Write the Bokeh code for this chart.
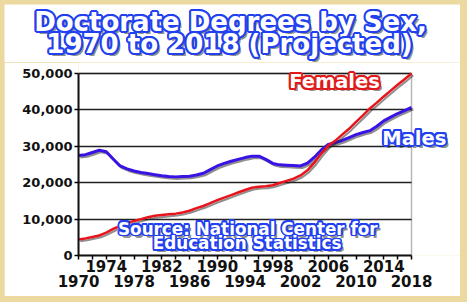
import math
from bokeh.plotting import figure
from bokeh.models import (Range1d, FixedTicker, LinearAxis, Label, NumeralTickFormatter,
                          ColumnDataSource, BoxAnnotation)
from bokeh.layouts import column, row
from bokeh.transform import dodge
from bokeh.embed import file_html
from bokeh.resources import INLINE

# ---------------- data ----------------
years = list(range(1970, 2019))
males = [27500, 27700, 28300, 28900, 28500, 26500, 24600, 23800, 23200, 22800,
         22500, 22200, 21900, 21700, 21600, 21700, 21800, 22100, 22600, 23600,
         24600, 25300, 25900, 26400, 26900, 27300, 27300, 26400, 25300, 24900,
         24800, 24700, 24600, 25400, 27000, 29000, 30500, 31000, 31600, 32400,
         33200, 33800, 34300, 35500, 37000, 38000, 39000, 39800, 40700]
females = [4400, 4700, 5100, 5500, 6300, 7300, 8100, 8900, 9500, 10000,
           10500, 10900, 11100, 11300, 11500, 11800, 12300, 13000, 13600, 14400,
           15200, 15900, 16600, 17300, 18000, 18600, 18900, 19000, 19300, 19900,
           20500, 21100, 22000, 23400, 25500, 28000, 30200, 31500, 33200, 34800,
           36700, 38500, 40400, 42000, 43700, 45300, 46900, 48400, 50000]
series_names = ["Females", "Males"]
title_lines = ["Doctorate Degrees by Sex,", "1970 to 2018 (Projected)"]
source_lines = ["Source: National Center for", "Education Statistics"]
y_ticks = [0, 10000, 20000, 30000, 40000, 50000]
x_minor_ticks = list(range(1970, 2019, 2))
x_labels_row1 = [1974, 1982, 1990, 1998, 2006, 2014]
x_labels_row2 = [1970, 1978, 1986, 1994, 2002, 2010, 2018]

X0, X1 = years[0], years[-1]
Y0, Y1 = y_ticks[0], y_ticks[-1]

FONT = "DejaVu Sans"
BLUE = "#2140f0"
RED = "#e01a1a"


def outlined(fig, x, y, text, size, outline, r=2.0):
    common = dict(x=x, y=y, text=text, text_font=FONT, text_font_style="bold",
                  text_font_size=size, text_align="center", text_baseline="alphabetic",
                  level="overlay")
    fig.add_layout(Label(x_offset=3, y_offset=-3, text_color="#303030", text_alpha=0.55, **common))
    for k in range(16):
        a = 2 * math.pi * k / 16
        fig.add_layout(Label(x_offset=r * math.cos(a), y_offset=r * math.sin(a),
                             text_color=outline, **common))
    fig.add_layout(Label(text_color="white", **common))


# ---------------- title panel ----------------
t = figure(width=456, height=58, x_range=Range1d(0, 456), y_range=Range1d(0, 58),
           output_backend="svg", toolbar_location=None,
           x_axis_location=None, y_axis_location=None,
           min_border=0, min_border_left=0, min_border_right=0,
           min_border_top=0, min_border_bottom=0)
t.background_fill_color = "white"
t.border_fill_color = "white"
t.outline_line_color = None
t.grid.visible = False
outlined(t, 226, 40.5, title_lines[0], "26px", BLUE)
outlined(t, 225, 18.5, title_lines[1], "26px", BLUE)

# ---------------- chart ----------------
src = ColumnDataSource(dict(year=years, males=males, females=females))

# the frame is widened to the right so that the "Males" label is not clipped
p = figure(width=456, height=234, x_range=Range1d(1970, 2025.06), y_range=Range1d(0, 53022),
           output_backend="svg", toolbar_location=None,
           min_border_left=74, min_border_right=0, min_border_top=0, min_border_bottom=41)
p.background_fill_color = "white"
p.border_fill_color = "white"
p.outline_line_color = None

# grid
p.xgrid.visible = False
p.ygrid.ticker = FixedTicker(ticks=y_ticks)
p.ygrid.grid_line_color = "#222222"
p.ygrid.grid_line_width = 1.5

# white mask right of the chart box to stop grid lines there
p.add_layout(BoxAnnotation(left=X1, fill_color="white", fill_alpha=1.0,
                           line_color=None, level="underlay"))
# chart box outline
p.add_layout(BoxAnnotation(left=X0, right=X1, bottom=Y0, top=Y1, fill_color=None,
                           line_color="#111111", line_width=1.5, level="underlay"))

# y axis
ya = p.yaxis[0]
ya.bounds = (Y0, Y1)
ya.ticker = FixedTicker(ticks=y_ticks)
ya.formatter = NumeralTickFormatter(format="0,0")
ya.major_label_text_font = FONT
ya.major_label_text_font_style = "bold"
ya.major_label_text_font_size = "13px"
ya.major_label_text_color = "#111111"
ya.axis_line_width = 2
ya.axis_line_color = "#111111"
ya.major_tick_out = 4
ya.major_tick_in = 0
ya.major_tick_line_width = 1.5
ya.minor_tick_line_color = None
ya.major_label_standoff = 2

# x axis row 1 (with tick marks every 2 years)
xa = p.xaxis[0]
xa.bounds = (X0, X1)
xa.ticker = FixedTicker(ticks=x_minor_ticks)
xa.major_label_overrides = {tk: (str(tk) if tk in x_labels_row1 else "") for tk in x_minor_ticks}
xa.major_label_text_font = FONT
xa.major_label_text_font_style = "bold"
xa.major_label_text_font_size = "15px"
xa.major_label_text_color = "#111111"
xa.axis_line_width = 2
xa.axis_line_color = "#111111"
xa.major_tick_out = 4
xa.major_tick_in = 0
xa.major_tick_line_width = 1.5
xa.minor_tick_line_color = None
xa.major_label_standoff = 0

# x axis row 2
xb = LinearAxis(ticker=FixedTicker(ticks=x_labels_row2))
xb.axis_line_color = None
xb.major_tick_line_color = None
xb.minor_tick_line_color = None
xb.major_tick_out = 0
xb.major_tick_in = 0
xb.major_label_standoff = 0
xb.major_label_text_font = FONT
xb.major_label_text_font_style = "bold"
xb.major_label_text_font_size = "15px"
xb.major_label_text_color = "#111111"
p.add_layout(xb, "below")

# lines with drop shadows
p.line(x=dodge("year", 0.25), y=dodge("males", -500), source=src,
       line_color="#202020", line_width=2.5, line_alpha=0.5)
p.line(x="year", y="males", source=src, line_color="#3a12e6", line_width=3)
p.line(x=dodge("year", 0.25), y=dodge("females", -500), source=src,
       line_color="#202020", line_width=2, line_alpha=0.5)
p.line(x="year", y="females", source=src, line_color="#e8141c", line_width=2.5)

# series labels
outlined(p, 2006.9, 47750, series_names[0], "19.5px", RED)
outlined(p, 2018.4, 32280, series_names[1], "19.5px", BLUE)
# source note
outlined(p, 1994.4, 7400, source_lines[0], "16.8px", BLUE, r=1.6)
outlined(p, 1994.3, 3300, source_lines[1], "16.8px", BLUE, r=1.6)

top_box = row(t)
top_box.margin = (4, 7, 0, 4)
bottom_box = row(p)
bottom_box.margin = (0, 7, 6, 4)
layout = column(top_box, bottom_box, spacing=0, styles={"background-color": "#ecd9a0"})

open("out.html", "w").write(file_html(layout, INLINE))
